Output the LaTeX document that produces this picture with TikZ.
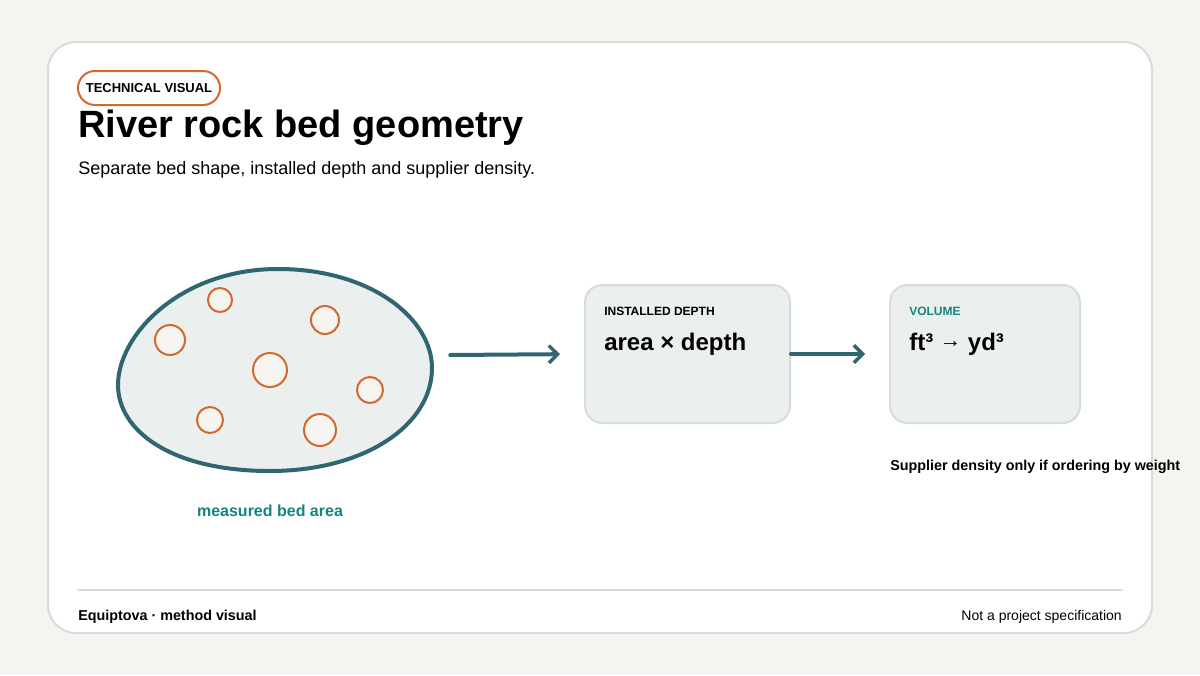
\documentclass[tikz,border=0pt]{standalone}
\usepackage{fontspec}
\setmainfont{Liberation Sans}
\usetikzlibrary{arrows.meta,positioning}

\begin{document}
\begin{tikzpicture}[x=0.75pt, y=-0.75pt, line cap=round,
    >={Straight Barb[length=6.5pt, width=13pt, line width=2.6pt]},
    stepbox/.style={draw=cardline, line width=1.5pt, fill=bedfill, rounded corners=13pt,
      minimum height=103.5pt, inner sep=0pt},
    flow/.style={->, draw=bedline, line width=3pt, shorten >=18pt},
    rock/.style={draw=rockline, fill=paper, line width=1.5pt}]
  \definecolor{paper}{HTML}{F5F4F0}
  \definecolor{cardline}{HTML}{D5DDDA}
  \definecolor{bedfill}{HTML}{EBEFED}
  \definecolor{bedline}{HTML}{2F6670}
  \definecolor{rockline}{HTML}{D2692F}
  \definecolor{tealtext}{HTML}{13857F}
  \useasboundingbox[fill=paper] (0,0) rectangle (1200,675);
  \draw[fill=white, draw=cardline, line width=1.5pt, rounded corners=21pt] (48,42) rectangle (1152,633);
  % header
  \node[draw=rockline, line width=1.5pt, rounded corners=12.75pt, minimum width=106.5pt,
    minimum height=25.5pt, inner sep=0pt, font=\bfseries\fontsize{9.75}{11}\selectfont] (tag) at (149,88) {TECHNICAL VISUAL};
  \node[anchor=base west, inner sep=0pt, font=\bfseries\fontsize{28.5}{32}\selectfont] (title) at (78,137) {River rock bed geometry};
  \node[anchor=base west, inner sep=0pt, font=\fontsize{13.5}{16}\selectfont] (sub) at (78,174) {Separate bed shape, installed depth and supplier density.};
  % river rock bed
  \draw[bedline, line width=3pt, fill=bedfill] (278,269) .. controls (370,269) and (432,318) .. (432,368)
    .. controls (432,425) and (365,471) .. (270,471) .. controls (170,471) and (118,430) .. (118,385)
    .. controls (118,335) and (180,269) .. (278,269) -- cycle;
  \foreach \x/\y/\r in {220/300/12, 170/340/15, 325/320/14, 270/370/17, 370/390/13, 210/420/13, 320/430/16}
    \draw[rock] (\x,\y) circle (\r*0.75pt);
  \node[minimum width=249pt, minimum height=150pt, inner sep=0pt] (bed) at (284,355) {};
  \node[anchor=base, inner sep=0pt, text=tealtext, font=\bfseries\fontsize{12}{14}\selectfont] (bedlabel) at (270,516) {measured bed area};
  % steps
  \node[stepbox, minimum width=153.75pt] (depth) at (687.5,354) {};
  \node[stepbox, minimum width=142.5pt] (volume) at (985,354) {};
  \node[anchor=base west, inner sep=0pt, font=\bfseries\fontsize{9}{11}\selectfont] (depthtag) at ([shift={(20,31)}]depth.north west) {INSTALLED DEPTH};
  \node[anchor=base west, inner sep=0pt, font=\bfseries\fontsize{18}{21}\selectfont] (depthsum) at ([shift={(20,66)}]depth.north west) {area × depth};
  \node[anchor=base west, inner sep=0pt, font=\bfseries\fontsize{18}{21}\selectfont] (volsum) at ([shift={(20,66)}]volume.north west)
    {ft³ {\mdseries\fontsize{16}{18}\selectfont\raisebox{2pt}{→}} yd³};
  \node[anchor=base west, inner sep=0pt, text=tealtext, font=\bfseries\fontsize{9}{11}\selectfont] (voltag) at ([shift={(20,31)}]volume.north west) {VOLUME};
  \node[anchor=base west, inner sep=0pt, font=\bfseries\fontsize{10.75}{13}\selectfont] (density) at (890,470) {Supplier density only if ordering by weight};
  \draw[flow] (bed.east) -- (depth.west);
  \draw[flow] (depth.east) -- (volume.west);
  % footer
  \draw[cardline, line width=1.5pt] (78,590) -- (1122,590);
  \node[anchor=base west, inner sep=0pt, font=\bfseries\fontsize{10.75}{13}\selectfont] (brand) at (78,620) {Equiptova · method visual};
  \node[anchor=base east, inner sep=0pt, font=\fontsize{10.5}{13}\selectfont] (note) at (1122,620) {Not a project specification};
\end{tikzpicture}
\end{document}
